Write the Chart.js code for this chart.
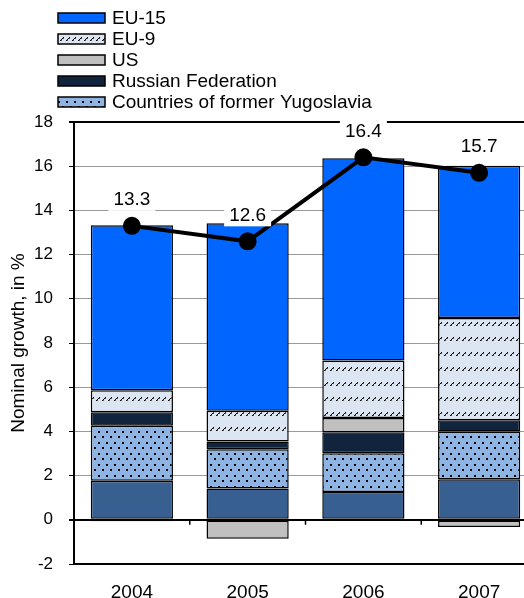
<!DOCTYPE html>
<html>
<head>
<meta charset="utf-8">
<script src="https://cdn.jsdelivr.net/npm/chart.js@4.4.0/dist/chart.umd.min.js"></script>
<style>
  html, body { margin: 0; padding: 0; background: #fff; overflow: hidden; }
  #wrap { width: 548px; height: 598px; }
</style>
</head>
<body>
<div id="wrap"><canvas id="growthChart" width="548" height="598"></canvas></div>
<script>
// values (percentage points)
const years = ['2004', '2005', '2006', '2007'];
const other = [1.77, 1.42, 1.26, 1.84];
const yugoslavia = [2.49, 1.77, 1.75, 2.16];
const russia = [0.61, 0.35, 0.95, 0.50];
const us = [-0.07, -0.86, 0.65, -0.33];
const eu9 = [0.99, 1.40, 2.60, 4.63];
const eu15 = [7.47, 8.48, 9.15, 6.89];
const total = [13.3, 12.6, 16.4, 15.7];
const yTicks = [-2, 0, 2, 4, 6, 8, 10, 12, 14, 16, 18];

const FONT = "'Liberation Sans', Arial, sans-serif";

function hatchPattern() {
  const c = document.createElement('canvas');
  c.width = 6; c.height = 15;
  const g = c.getContext('2d');
  g.fillStyle = '#dce6f2';
  g.fillRect(0, 0, 6, 15);
  g.fillStyle = '#000';
  // small "/" dash made of dots
  g.fillRect(0, 10, 1, 1);
  g.fillRect(1, 9, 1, 1);
  g.fillRect(2, 8, 1, 1);
  g.fillRect(3, 7, 1, 1);
  g.fillStyle = '#555';
  g.fillRect(1, 10, 1, 1);
  g.fillRect(3, 8, 1, 1);
  return g.createPattern(c, 'repeat');
}

function dotPattern() {
  const c = document.createElement('canvas');
  c.width = 8; c.height = 11;
  const g = c.getContext('2d');
  g.fillStyle = '#8db4e2';
  g.fillRect(0, 0, 8, 11);
  g.fillStyle = '#000';
  g.fillRect(2, 2, 2, 2);
  g.fillRect(6, 7, 2, 2);
  return g.createPattern(c, 'repeat');
}

const hatch = hatchPattern();
const dots = dotPattern();

const legendItems = [
  { text: 'EU-15', fill: '#0066ff' },
  { text: 'EU-9', fill: hatch },
  { text: 'US', fill: '#c0c0c0' },
  { text: 'Russian Federation', fill: '#10243e' },
  { text: 'Countries of former Yugoslavia', fill: dots }
];

const extras = {
  id: 'extras',
  afterDatasetsDraw(chart) {
    const ctx = chart.ctx;
    const x = chart.scales.x, y = chart.scales.y;
    const y0 = y.getPixelForValue(0);
    ctx.save();
    // tick marks on the zero line between categories
    ctx.strokeStyle = '#000';
    ctx.lineWidth = 1.5;
    for (let i = 1; i < years.length; i++) {
      const px = (x.getPixelForValue(i - 1) + x.getPixelForValue(i)) / 2;
      ctx.beginPath();
      ctx.moveTo(px, y0);
      ctx.lineTo(px, y0 + 5);
      ctx.stroke();
    }
    // total labels above the line points
    ctx.font = '19px ' + FONT;
    ctx.textAlign = 'center';
    ctx.textBaseline = 'middle';
    const meta = chart.getDatasetMeta(6);
    meta.data.forEach((pt, i) => {
      const label = total[i].toFixed(1);
      const w = ctx.measureText(label).width + 10;
      const ly = pt.y - 26;
      ctx.fillStyle = '#fff';
      ctx.fillRect(pt.x - w / 2, ly - 11, w, 22);
      ctx.fillStyle = '#000';
      ctx.fillText(label, pt.x, ly);
    });
    // legend
    ctx.textAlign = 'left';
    legendItems.forEach((item, i) => {
      const cy = 18 + i * 21;
      ctx.fillStyle = item.fill;
      ctx.fillRect(58, cy - 5, 47, 10);
      ctx.lineWidth = 1.5;
      ctx.strokeStyle = '#000';
      ctx.strokeRect(58, cy - 5, 47, 10);
      ctx.fillStyle = '#000';
      ctx.fillText(item.text, 112, cy + 1);
    });
    ctx.restore();
  }
};

function barSet(label, data, fill) {
  return {
    type: 'bar', label: label, data: data, stack: 'bars', order: 1,
    backgroundColor: fill, borderColor: '#000', borderWidth: 1.5,
    borderSkipped: false, barPercentage: 0.71, categoryPercentage: 1
  };
}

new Chart(document.getElementById('growthChart'), {
  data: {
    labels: years,
    datasets: [
      barSet('Other', other, '#376091'),
      barSet('Countries of former Yugoslavia', yugoslavia, dots),
      barSet('Russian Federation', russia, '#10243e'),
      barSet('US', us, '#c0c0c0'),
      barSet('EU-9', eu9, hatch),
      barSet('EU-15', eu15, '#0066ff'),
      {
        type: 'line', label: 'Total', data: total, stack: 'total', order: 0,
        borderColor: '#000', borderWidth: 4, pointRadius: 7,
        pointBackgroundColor: '#000', pointBorderColor: '#000', tension: 0
      }
    ]
  },
  options: {
    responsive: false,
    animation: false,
    devicePixelRatio: 1,
    layout: { padding: { top: 122, right: 2, left: 0, bottom: 0 } },
    plugins: { legend: { display: false }, tooltip: { enabled: false } },
    scales: {
      x: {
        stacked: true,
        grid: { display: false, drawTicks: false },
        border: { display: true, color: '#000', width: 2 },
        ticks: { color: '#000', padding: 17, font: { family: FONT, size: 19 } },
        afterFit(scale) {
          scale.height = 34;
          scale.paddingLeft = 0;
          scale.paddingRight = 0;
        }
      },
      y: {
        stacked: true,
        min: -2, max: 18,
        afterBuildTicks(scale) { scale.ticks = yTicks.map(v => ({ value: v })); },
        grid: {
          color: ctx => (ctx.tick && (ctx.tick.value === 0 || ctx.tick.value === 18)) ? '#000' : '#999',
          lineWidth: ctx => (ctx.tick && (ctx.tick.value === 0 || ctx.tick.value === 18)) ? 2 : 1,
          tickColor: '#000', tickLength: 5
        },
        border: { display: true, color: '#000', width: 2 },
        ticks: { color: '#000', padding: 16, font: { family: FONT, size: 17 } },
        title: {
          display: true, text: 'Nominal growth, in %', color: '#000',
          font: { family: FONT, size: 19 }, padding: { top: 7, bottom: 0 }
        },
        afterFit(scale) {
          scale.width = 74;
          scale.paddingTop = 0;
          scale.paddingBottom = 0;
        }
      }
    }
  },
  plugins: [extras]
});
</script>
</body>
</html>
